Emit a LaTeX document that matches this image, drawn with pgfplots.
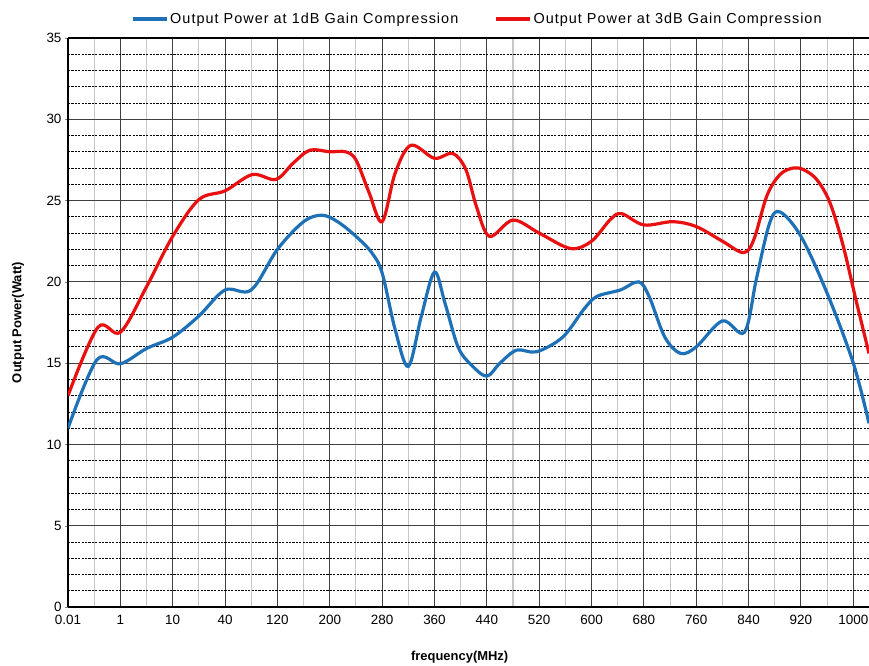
\documentclass[border=0pt]{standalone}
\usepackage{pgfplots}
\usepackage{fontspec}
\setmainfont{Liberation Sans}
\pgfplotsset{compat=1.18}
\usetikzlibrary{calc}
\definecolor{oneblue}{RGB}{31,113,183}
\definecolor{threered}{RGB}{232,16,16}

% 1dB compression, x = category index
\pgfplotstableread{
x y
0 11.0
0.55 15.2
1.0 14.96
1.5 15.9
2.0 16.6
2.5 17.9
3.0 19.5
3.5 19.5
4.0 22.0
4.5 23.7
4.85 24.1
5.15 23.7
5.5 22.8
5.8 21.8
6.0 20.55
6.25 17.05
6.5 14.8
6.75 17.9
7.0 20.6
7.2 18.7
7.45 16.0
7.7 14.9
8.0 14.2
8.25 15.0
8.57 15.8
8.95 15.7
9.45 16.6
9.85 18.3
10.1 19.1
10.55 19.5
10.9 20.0
11.1 19.1
11.4 16.6
11.7 15.6
12.0 16.0
12.5 17.6
12.92 16.9
13.15 20.2
13.4 23.6
13.6 24.3
14.0 22.8
14.5 19.3
15.0 15.0
15.3 11.3
}\onedb

% 3dB compression
\pgfplotstableread{
x y
0 13.0
0.57 17.2
1.0 16.9
1.5 19.7
2.0 22.8
2.5 25.06
3.0 25.6
3.52 26.6
3.97 26.3
4.3 27.3
4.62 28.1
5.0 28.0
5.3 28.0
5.5 27.5
5.75 25.5
6.0 23.7
6.25 26.7
6.55 28.4
7.0 27.6
7.35 27.9
7.6 26.9
7.8 24.65
8.05 22.8
8.5 23.8
9.0 23.0
9.6 22.05
10.0 22.5
10.35 23.8
10.57 24.2
11.0 23.5
11.55 23.7
12.0 23.4
12.5 22.5
12.9 21.8
13.1 22.6
13.35 25.3
13.6 26.6
13.85 27.0
14.05 26.9
14.3 26.3
14.55 24.9
14.8 22.3
15.05 18.9
15.3 15.6
}\threedb

\begin{document}
\begin{tikzpicture}
\begin{axis}[%
  name=ax,
  scale only axis,
  width=801bp, height=569bp,
  xmin=0, xmax=15.3,
  ymin=0, ymax=35,
  axis x line*=box, axis y line*=left,
  axis line style={line width=2.6bp, black},
  xtick={0,...,15},
  xticklabels={0.01,1,10,40,120,200,280,360,440,520,600,680,760,840,920,1000},
  ytick={0,5,...,35},
  minor x tick num=1,
  minor y tick num=4,
  tick align=outside,
  major tick length=3bp, minor tick length=0pt,
  xtick style={draw=none},
  /pgf/number format/assume math mode=true,
  ticklabel style={font=\fontsize{13.5}{15}\selectfont},
  xticklabel style={yshift=-2bp},
  grid=both,
  major grid style={black!75, line width=1.1bp},
  minor x grid style={black!22, line width=1.1bp, solid},
  minor y grid style={black, line width=0.8bp, dash pattern=on 2.2bp off 1.2bp},
  xlabel={\bfseries frequency(MHz)},
  ylabel={\bfseries Output Power(Watt)},
  label style={font=\fontsize{13}{15}\selectfont},
  xlabel style={at={(axis description cs:0.489,-0.088)}, anchor=center},
  ylabel style={at={(axis description cs:-0.0624,0.5)}, anchor=center},
  legend columns=2,
  legend style={at={(axis description cs:0.511,1.0334)}, anchor=center,
    draw=none, fill=none,
    font=\fontsize{14.5}{16}\selectfont\addfontfeature{LetterSpace=7},
    /tikz/every even column/.append style={column sep=34bp},
    inner sep=0pt},
  legend image code/.code={\draw[#1] (0bp,0bp) -- (34bp,0bp);},
  legend cell align=left,
  every axis plot/.append style={line width=3.2bp, smooth, tension=0.55},
]
\addplot[oneblue] table {\onedb};
\addlegendentry{Output Power at 1dB Gain Compression}
\addplot[threered] table {\threedb};
\addlegendentry{Output Power at 3dB Gain Compression}
\end{axis}
\pgfresetboundingbox
\path[use as bounding box] ($(ax.south west)+(-68bp,-59bp)$) rectangle ($(ax.north east)+(0bp,38bp)$);
\end{tikzpicture}
\end{document}
